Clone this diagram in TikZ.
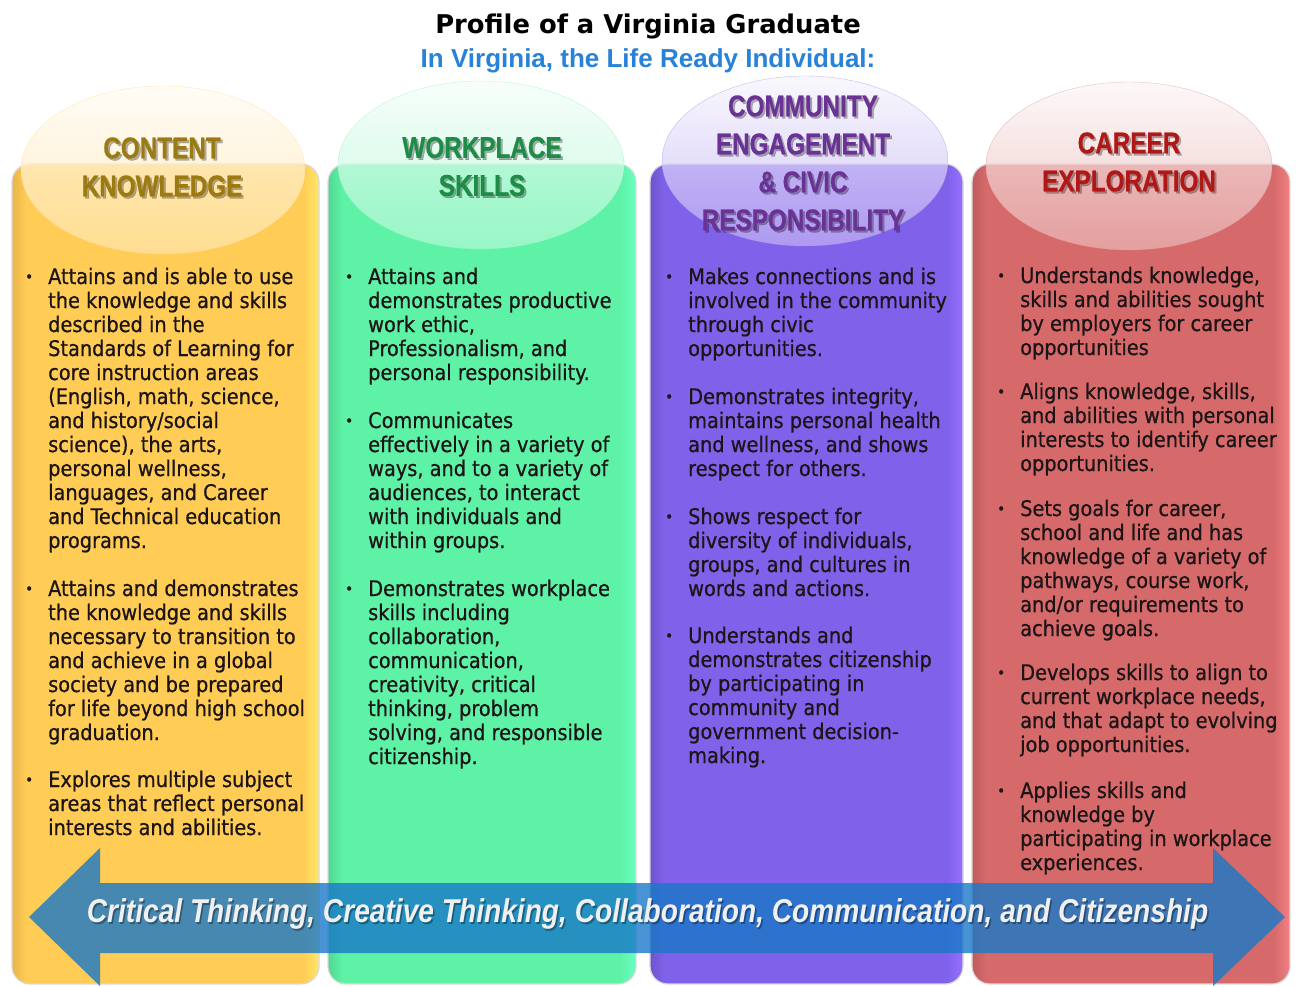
\documentclass[tikz,border=0pt]{standalone}
\usepackage{fontspec}
\setmainfont{DejaVu Sans Condensed}
\newfontfamily\bodyfont{DejaVu Sans Condensed}[FakeBold=0.7]
\newfontfamily\titlefont{DejaVu Sans}
\newfontfamily\subfont{Liberation Sans}
\newfontfamily\hdrfont{Liberation Sans}[FakeStretch=0.81,FakeBold=0.6]
\newfontfamily\arrfont{Liberation Sans}[FakeStretch=0.853]
\definecolor{yelC}{RGB}{255,204,85}
\definecolor{yelD}{RGB}{232,180,72}
\definecolor{yelL}{RGB}{255,232,105}
\definecolor{grnC}{RGB}{94,242,166}
\definecolor{grnD}{RGB}{80,215,145}
\definecolor{grnL}{RGB}{105,255,195}
\definecolor{purC}{RGB}{128,98,234}
\definecolor{purD}{RGB}{108,84,205}
\definecolor{purL}{RGB}{150,112,255}
\definecolor{redC}{RGB}{214,106,106}
\definecolor{redD}{RGB}{190,92,92}
\definecolor{redL}{RGB}{242,128,130}
\definecolor{subC}{RGB}{40,130,215}
\definecolor{arrC}{RGB}{25,120,200}
\definecolor{txtC}{RGB}{28,20,22}
\definecolor{hYel}{RGB}{156,122,18}
\definecolor{hGrn}{RGB}{30,140,70}
\definecolor{hPur}{RGB}{106,50,148}
\definecolor{hRed}{RGB}{176,24,24}
\newcommand\blt{\leavevmode\llap{\makebox[23pt][l]{\raisebox{2pt}{\fontsize{15}{15}\selectfont •}}}}
\tikzset{
  bodytext/.style={anchor=base west, inner sep=0pt, text=txtC,
    font=\bodyfont\fontsize{21.5}{24}\selectfont},
  hdr/.style={inner sep=0pt, align=center,
    font=\hdrfont\bfseries\fontsize{30}{38}\selectfont},
  hdrshadow/.style={hdr, text=black, opacity=0.3},
  colframe/.style={draw=black!15, line width=1.2pt, rounded corners=18pt},
}
\begin{document}
\begin{tikzpicture}[x=1pt,y=-1pt]
\useasboundingbox (0,0) rectangle (1297,986);
\fill[white] (0,0) rectangle (1297,986);

% ---------- columns ----------
\begin{scope}
\clip[rounded corners=18pt] (12,164) rectangle (319,984);
\fill[yelC] (12,164) rectangle (319,984);
\shade[left color=yelD, right color=yelC] (12,164) rectangle (26,984);
\shade[left color=yelC, right color=yelL] (303,164) rectangle (319,984);
\end{scope}
\draw[colframe] (12,164) rectangle (319,984);

\begin{scope}
\clip[rounded corners=18pt] (328,164) rectangle (636,984);
\fill[grnC] (328,164) rectangle (636,984);
\shade[left color=grnD, right color=grnC] (328,164) rectangle (342,984);
\shade[left color=grnC, right color=grnL] (620,164) rectangle (636,984);
\end{scope}
\draw[colframe] (328,164) rectangle (636,984);

\begin{scope}
\clip[rounded corners=18pt] (650,164) rectangle (963,984);
\fill[purC] (650,164) rectangle (963,984);
\shade[left color=purD, right color=purC] (650,164) rectangle (664,984);
\shade[left color=purC, right color=purL] (947,164) rectangle (963,984);
\end{scope}
\draw[colframe] (650,164) rectangle (963,984);

\begin{scope}
\clip[rounded corners=18pt] (972,164) rectangle (1290,984);
\fill[redC] (972,164) rectangle (1290,984);
\shade[left color=redD, right color=redC] (972,164) rectangle (986,984);
\shade[left color=redC, right color=redL] (1274,164) rectangle (1290,984);
\end{scope}
\draw[colframe] (972,164) rectangle (1290,984);

% ---------- ellipses ----------
\shade[top color=yelC!6!white, bottom color=yelC!50!white, fill opacity=0.72] (163,170) ellipse [x radius=142pt, y radius=84pt];
\draw[yelC!70!white, opacity=0.6] (163,170) ellipse [x radius=142pt, y radius=84pt];
\shade[top color=grnC!6!white, bottom color=grnC!50!white, fill opacity=0.72] (481,165) ellipse [x radius=143pt, y radius=84pt];
\draw[grnC!70!white, opacity=0.6] (481,165) ellipse [x radius=143pt, y radius=84pt];
\shade[top color=purC!6!white, bottom color=purC!50!white, fill opacity=0.72] (805,161) ellipse [x radius=143pt, y radius=85pt];
\draw[purC!70!white, opacity=0.6] (805,161) ellipse [x radius=143pt, y radius=85pt];
\shade[top color=redC!6!white, bottom color=redC!50!white, fill opacity=0.72] (1129,166) ellipse [x radius=143pt, y radius=84pt];
\draw[redC!70!white, opacity=0.6] (1129,166) ellipse [x radius=143pt, y radius=84pt];

% ---------- headers ----------
\node[hdrshadow] (h1s) at (164,169) {CONTENT\\KNOWLEDGE};
\node[hdr, text=hYel] (h1) at (162,167) {CONTENT\\KNOWLEDGE};
\node[hdrshadow] (h2s) at (484,168.5) {WORKPLACE\\SKILLS};
\node[hdr, text=hGrn] (h2) at (482,166.5) {WORKPLACE\\SKILLS};
\node[hdrshadow] (h3s) at (805,165) {COMMUNITY\\ENGAGEMENT\\\& CIVIC\\RESPONSIBILITY};
\node[hdr, text=hPur] (h3) at (803,163) {COMMUNITY\\ENGAGEMENT\\\& CIVIC\\RESPONSIBILITY};
\node[hdrshadow] (h4s) at (1131,164) {CAREER\\EXPLORATION};
\node[hdr, text=hRed] (h4) at (1129,162) {CAREER\\EXPLORATION};

% ---------- title ----------
\node[anchor=base, inner sep=0pt, font=\titlefont\bfseries\fontsize{25.8}{30}\selectfont] (title) at (648,33) {Profile of a Virginia Graduate};
\node[anchor=base, inner sep=0pt, text=subC, font=\subfont\bfseries\fontsize{26}{30}\selectfont] (subtitle) at (648,67) {In Virginia, the Life Ready Individual:};

% ---------- column 1 ----------
\node[bodytext] (c1a) at (48,284) {\parbox[t]{400pt}{\blt Attains and is able to use\\the knowledge and skills\\described in the\\Standards of Learning for\\core instruction areas\\(English, math, science,\\and history/social\\science), the arts,\\personal wellness,\\languages, and Career\\and Technical education\\programs.}};
\node[bodytext] (c1b) at (48,596) {\parbox[t]{400pt}{\blt Attains and demonstrates\\the knowledge and skills\\necessary to transition to\\and achieve in a global\\society and be prepared\\for life beyond high school\\graduation.}};
\node[bodytext] (c1c) at (48,787) {\parbox[t]{400pt}{\blt Explores multiple subject\\areas that reflect personal\\interests and abilities.}};

% ---------- column 2 ----------
\node[bodytext] (c2a) at (368,284) {\parbox[t]{400pt}{\blt Attains and\\demonstrates productive\\work ethic,\\Professionalism, and\\personal responsibility.}};
\node[bodytext] (c2b) at (368,428) {\parbox[t]{400pt}{\blt Communicates\\effectively in a variety of\\ways, and to a variety of\\audiences, to interact\\with individuals and\\within groups.}};
\node[bodytext] (c2c) at (368,596) {\parbox[t]{400pt}{\blt Demonstrates workplace\\skills including\\collaboration,\\communication,\\creativity, critical\\thinking, problem\\solving, and responsible\\citizenship.}};

% ---------- column 3 ----------
\node[bodytext] (c3a) at (688,284) {\parbox[t]{400pt}{\blt Makes connections and is\\involved in the community\\through civic\\opportunities.}};
\node[bodytext] (c3b) at (688,404) {\parbox[t]{400pt}{\blt Demonstrates integrity,\\maintains personal health\\and wellness, and shows\\respect for others.}};
\node[bodytext] (c3c) at (688,524) {\parbox[t]{400pt}{\blt Shows respect for\\diversity of individuals,\\groups, and cultures in\\words and actions.}};
\node[bodytext] (c3d) at (688,643) {\parbox[t]{400pt}{\blt Understands and\\demonstrates citizenship\\by participating in\\community and\\government decision-\\making.}};

% ---------- column 4 ----------
\node[bodytext] (c4a) at (1020,283) {\parbox[t]{400pt}{\blt Understands knowledge,\\skills and abilities sought\\by employers for career\\opportunities}};
\node[bodytext] (c4b) at (1020,399) {\parbox[t]{400pt}{\blt Aligns knowledge, skills,\\and abilities with personal\\interests to identify career\\opportunities.}};
\node[bodytext] (c4c) at (1020,516) {\parbox[t]{400pt}{\blt Sets goals for career,\\school and life and has\\knowledge of a variety of\\pathways, course work,\\and/or requirements to\\achieve goals.}};
\node[bodytext] (c4d) at (1020,680) {\parbox[t]{400pt}{\blt Develops skills to align to\\current workplace needs,\\and that adapt to evolving\\job opportunities.}};
\node[bodytext] (c4e) at (1020,798) {\parbox[t]{400pt}{\blt Applies skills and\\knowledge by\\participating in workplace\\experiences.}};

% ---------- double arrow ----------
\fill[arrC, opacity=0.8] (29,917) -- (100,848) -- (100,883) -- (1213,883) -- (1213,848) -- (1285,917) -- (1213,986) -- (1213,953) -- (100,953) -- (100,986) -- cycle;
\node[anchor=base, inner sep=0pt, text=black, opacity=0.35, font=\arrfont\bfseries\itshape\fontsize{33}{36}\selectfont] (arrtxts) at (649,924.5) {Critical Thinking, Creative Thinking, Collaboration, Communication, and Citizenship};
\node[anchor=base, inner sep=0pt, text=white!94!black, font=\arrfont\bfseries\itshape\fontsize{33}{36}\selectfont] (arrtxt) at (647.5,922.5) {Critical Thinking, Creative Thinking, Collaboration, Communication, and Citizenship};
\end{tikzpicture}
\end{document}
